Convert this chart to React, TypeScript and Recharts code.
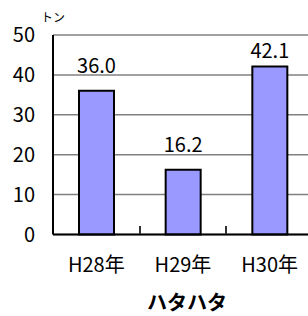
import { BarChart, Bar, XAxis, YAxis, CartesianGrid, LabelList } from "recharts";

const years = ["H28年", "H29年", "H30年"];
const catch_ = [36.0, 16.2, 42.1];
const yTicks = [0, 10, 20, 30, 40, 50];

const data = years.map((y, i) => ({ year: y, value: catch_[i] }));

const FONT = '"Noto Sans CJK JP", "Noto Sans", sans-serif';
const CHART_W = 320;
const CHART_H = 316;
const LEFT = 53;
const RIGHT = 7;
const BAND = (CHART_W - LEFT - RIGHT) / years.length;
const AXIS_Y = 234.5;

function XTick(props: any) {
  const { x, payload } = props;
  return (
    <text x={x} y={AXIS_Y + 37} textAnchor="middle" fontSize={20} fontFamily={FONT} fill="#000">
      {payload.value}
    </text>
  );
}

function BarLabel(props: any) {
  const { x, y, width, value } = props;
  const base = Math.max(y - 17.5, 58);
  return (
    <text x={x + width / 2} y={base} textAnchor="middle" fontSize={20} fontFamily={FONT} fill="#000">
      {Number(value).toFixed(1)}
    </text>
  );
}

export default function App() {
  return (
    <div style={{ position: "absolute", left: 0, top: 0, width: 308, height: 316, overflow: "hidden", background: "#fff", fontFamily: FONT }}>
      <BarChart width={CHART_W} height={CHART_H} data={data} margin={{ top: 35, right: RIGHT, bottom: 0, left: 0 }}>
        <CartesianGrid vertical={false} stroke="#808080" strokeWidth={1.5} />
        <XAxis
          dataKey="year"
          height={81.5}
          axisLine={{ stroke: "#000", strokeWidth: 2 }}
          tickLine={false}
          tickSize={0}
          tickMargin={0}
          tick={<XTick />}
          interval={0}
        />
        <YAxis
          width={LEFT}
          domain={[0, 50]}
          ticks={yTicks}
          axisLine={{ stroke: "#000", strokeWidth: 2 }}
          tickLine={false}
          tickSize={0}
          tickMargin={18}
          tick={{ fontSize: 20, fill: "#000", fontFamily: FONT }}
        />
        <Bar dataKey="value" fill="#9999FF" stroke="#000" strokeWidth={2} barSize={35} isAnimationActive={false}>
          <LabelList dataKey="value" content={<BarLabel />} />
        </Bar>
      </BarChart>
      {/* category separators on the x axis, pointing up into the plot */}
      {years.slice(1).map((_, i) => (
        <div
          key={i}
          style={{
            position: "absolute",
            zIndex: 10,
            left: Math.round(LEFT + BAND * (i + 1)) - 1,
            top: 226,
            width: 2,
            height: 8,
            background: "#333",
          }}
        />
      ))}
      <div style={{ position: "absolute", zIndex: 10, left: 41, top: 10, fontSize: 12, lineHeight: "14px" }}>トン</div>
      <div style={{ position: "absolute", zIndex: 10, left: 137, width: 100, top: 290, textAlign: "center", fontSize: 20, fontWeight: "bold", lineHeight: "24px" }}>
        ハタハタ
      </div>
    </div>
  );
}
